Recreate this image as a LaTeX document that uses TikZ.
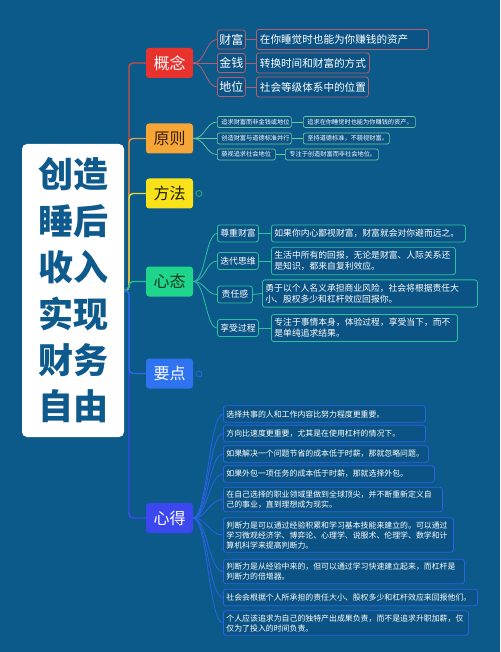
\documentclass[tikz,border=0pt]{standalone}
\usepackage{fontspec}
\setmainfont{Noto Sans CJK SC}
\newcommand\myfs[2]{\fontsize{#1}{#2}\selectfont}
\definecolor{bgc}{HTML}{0C5A8A}
\definecolor{boxfill}{HTML}{0B5384}
\definecolor{klc}{HTML}{B35F6F}
\definecolor{ylc}{HTML}{6CC9A2}
\definecolor{xlc}{HTML}{2FC0A0}
\definecolor{dlc}{HTML}{2B62E6}
\definecolor{spa}{HTML}{C8503E}
\definecolor{spb}{HTML}{E0A048}
\definecolor{spc}{HTML}{E4D83A}
\definecolor{spd}{HTML}{22C48C}
\definecolor{spe}{HTML}{2C6CEA}
\definecolor{spf}{HTML}{3A4CEC}
\definecolor{mfa}{HTML}{E8322E}
\definecolor{mfb}{HTML}{F6A636}
\definecolor{mfc}{HTML}{F9E21A}
\definecolor{mfd}{HTML}{1FD48B}
\definecolor{mfe}{HTML}{2F73F1}
\definecolor{mff}{HTML}{3D47EF}
\definecolor{ctext}{HTML}{0E5A8C}
\begin{document}
\begin{tikzpicture}[x=1pt,y=-1pt,
  mainbox/.style={rounded corners=3pt, minimum width=47pt, minimum height=30pt, inner sep=0pt, font=\myfs{16}{16}},
  spine/.style={line width=1.4pt, rounded corners=4pt},
  subbase/.style={line width=0.8pt, fill=boxfill, text=white, anchor=west, rounded corners=2.5pt},
  kbox/.style={subbase, draw=klc, inner xsep=2pt, inner ysep=2pt, minimum height=19pt, align=center, font=\myfs{12}{12}},
  kdet/.style={subbase, draw=klc, inner xsep=3.5pt, inner ysep=2pt, minimum height=20pt, align=left, font=\myfs{10.6}{12}},
  ybox/.style={subbase, draw=ylc, line width=0.7pt, rounded corners=2pt, inner xsep=4pt, inner ysep=1.5pt, minimum height=11pt, align=left, font=\myfs{6.2}{7}},
  xbox/.style={subbase, draw=xlc, inner xsep=3pt, inner ysep=3pt, minimum height=17pt, align=center, font=\myfs{8.8}{11}},
  xdet/.style={subbase, draw=xlc, inner xsep=3pt, inner ysep=4pt, minimum height=17pt, align=left, font=\myfs{8.8}{11}},
  dbox/.style={subbase, draw=dlc, inner xsep=3pt, inner ysep=3.5pt, minimum height=16.5pt, align=left, font=\myfs{7.9}{10}},
  kline/.style={draw=klc, line width=0.8pt},
  yline/.style={draw=ylc, line width=0.7pt},
  xline/.style={draw=xlc, line width=0.8pt},
  dline/.style={draw=dlc, line width=0.8pt}
]
\useasboundingbox (0,0) rectangle (500,652);
\fill[bgc] (0,0) rectangle (500,652);

% center
\node[fill=white, rounded corners=5pt, minimum width=102pt, minimum height=293pt, inner sep=0pt,
  text=ctext, align=center, font=\myfs{35}{46.4}\bfseries] (c) at (73,290.5)
  {创造\\睡后\\收入\\实现\\财务\\自由};

% main nodes
\node[mainbox, fill=mfa, text=white] (m1) at (169.5,63) {概念};
\node[mainbox, fill=mfb, text={rgb,255:red,59;green,30;blue,8}] (m2) at (169.5,138.5) {原则};
\node[mainbox, fill=mfc, text={rgb,255:red,30;green,28;blue,10}] (m3) at (169.5,193.5) {方法};
\node[mainbox, fill=mfd, text={rgb,255:red,12;green,58;blue,30}] (m4) at (169.5,281.5) {心态};
\node[mainbox, fill=mfe, text=white] (m5) at (169.5,373.5) {要点};
\node[mainbox, fill=mff, text=white] (m6) at (169.5,518) {心得};

% spine
\coordinate (sp) at (129,290.5);
\draw[spine, spa] (c.east) -- (sp) |- (m1.west);
\draw[spine, spb] (c.east) -- (sp) |- (m2.west);
\draw[spine, spc] (c.east) -- (sp) |- (m3.west);
\draw[spine, spd] (c.east) -- (sp) |- (m4.west);
\draw[spine, spf] (c.east) -- (sp) |- (m6.west);
\draw[spine, spe] (c.east) -- (sp) |- (m5.west);

% collapsed indicators
\node[circle, draw={rgb,255:red,48;green,176;blue,112}, line width=0.8pt, minimum size=6pt, inner sep=0pt] (r3) at (199,193.5) {};
\node[circle, draw=dlc, line width=0.8pt, minimum size=6pt, inner sep=0pt] (r5) at (199,374) {};

% 概念
\node[kbox] (k1) at (217,39.5) {财富};
\node[kbox] (k2) at (217,63) {金钱};
\node[kbox] (k3) at (217,87) {地位};
\node[kdet, text width=165pt] (kd1) at (256,39.5) {在你睡觉时也能为你赚钱的资产};
\node[kdet, text width=106pt] (kd2) at (256,63) {转换时间和财富的方式};
\node[kdet, text width=105pt] (kd3) at (256,87) {社会等级体系中的位置};
\foreach \i in {1,2,3} {
  \draw[kline] (m1.east) .. controls +(12,0) and +(-11,0) .. (k\i.west);
  \draw[kline] (k\i.east) -- (kd\i.west);
}

% 原则
\node[ybox, text width=66pt] (y1) at (217,122) {追求财富而非金钱或地位};
\node[ybox, text width=66pt] (y2) at (217,138.5) {创造财富与道德标准并行};
\node[ybox, text width=50pt] (y3) at (217,154.5) {藐视追求社会地位};
\node[ybox, text width=104pt] (yd1) at (303,122) {追求在你睡觉时也能为你赚钱的资产。};
\node[ybox, text width=78pt] (yd2) at (303,138.5) {坚持道德标准，不藐视财富。};
\node[ybox, text width=85pt] (yd3) at (285,154.5) {专注于创造财富而非社会地位。};
\foreach \i in {1,2,3} {
  \draw[yline] (m2.east) .. controls +(12,0) and +(-11,0) .. (y\i.west);
  \draw[yline] (y\i.east) -- (yd\i.west);
}

% 心态
\node[xbox, text width=35pt] (x1) at (217,233.5) {尊重财富};
\node[xbox, text width=35pt] (x2) at (217,261) {迭代思维};
\node[xbox, text width=29pt] (x3) at (217,294.5) {责任感};
\node[xbox, text width=35pt] (x4) at (217,328) {享受过程};
\node[xdet, text width=188pt] (xd1) at (271,233.5) {如果你内心鄙视财富，财富就会对你避而远之。};
\node[xdet, text width=178pt] (xd2) at (271,261) {生活中所有的回报，无论是财富、人际关系还\\是知识，都来自复利效应。};
\node[xdet, text width=209pt] (xd3) at (262,293.5) {勇于以个人名义承担商业风险，社会将根据责任大\\小、股权多少和杠杆效应回报你。};
\node[xdet, text width=180pt] (xd4) at (271,328) {专注于事情本身，体验过程，享受当下，而不\\是单纯追求结果。};
\foreach \i in {1,2,3,4} {
  \draw[xline] (m4.east) .. controls +(12,0) and +(-11,0) .. (x\i.west);
  \draw[xline] (x\i.east) -- (xd\i.west);
}

% 心得
\node[dbox, text width=196pt] (d1) at (223,414) {选择共事的人和工作内容比努力程度更重要。};
\node[dbox, text width=196pt] (d2) at (223,433.5) {方向比速度更重要，尤其是在使用杠杆的情况下。};
\node[dbox, text width=199pt] (d3) at (223,454) {如果解决一个问题节省的成本低于时薪，那就忽略问题。};
\node[dbox, text width=205pt] (d4) at (223,474) {如果外包一项任务的成本低于时薪，那就选择外包。};
\node[dbox, text width=213pt] (d5) at (223,499.5) {在自己选择的职业领域里做到全球顶尖，并不断重新定义自\\己的事业，直到理想成为现实。};
\node[dbox, text width=224pt] (d6) at (223,535) {判断力是可以通过经验积累和学习基本技能来建立的。可以通过\\学习微观经济学、博弈论、心理学、说服术、伦理学、数学和计\\算机科学来提高判断力。};
\node[dbox, text width=235pt] (d7) at (223,571.5) {判断力是从经验中来的，但可以通过学习快速建立起来，而杠杆是\\判断力的倍增器。};
\node[dbox, text width=248pt] (d8) at (223,597.5) {社会会根据个人所承担的责任大小、股权多少和杠杆效应来回报他们。};
\node[dbox, text width=239pt] (d9) at (223,623) {个人应该追求为自己的独特产出成果负责，而不是追求升职加薪，仅\\仅为了投入的时间负责。};
\foreach \i in {1,...,9} {
  \draw[dline] (m6.east) .. controls +(14,0) and +(-14,0) .. (d\i.west);
}
\end{tikzpicture}
\end{document}
